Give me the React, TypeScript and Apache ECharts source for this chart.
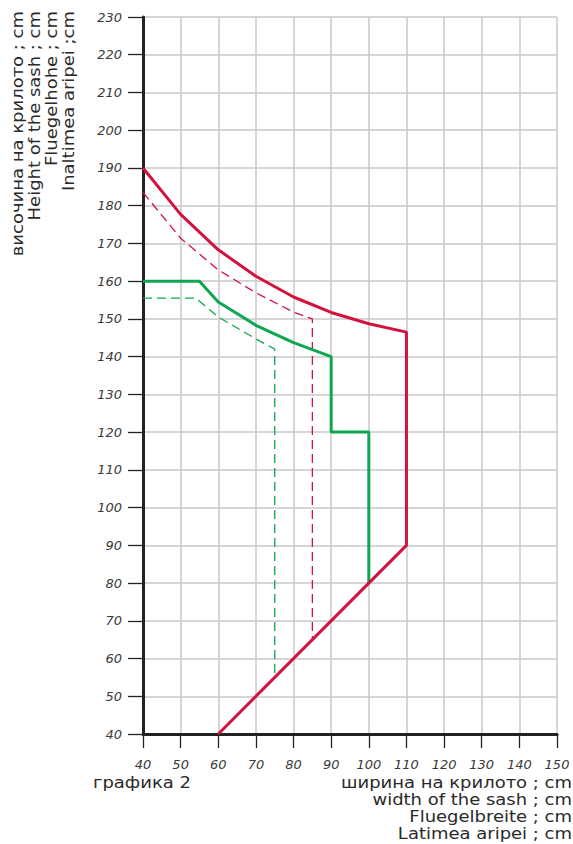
import React, { useEffect, useRef } from "react";
import * as echarts from "echarts";

const redSolid: number[][] = [
  [40, 190], [50, 177.7], [60, 168.3], [70, 161.3], [80, 155.8], [90, 151.7],
  [100, 148.7], [110, 146.5], [110, 90], [60, 40],
];
const redDashed: number[][] = [
  [40, 183.5], [50, 171.4], [60, 163], [70, 156.9], [80, 151.8], [85, 150], [85, 65],
];
const greenSolid: number[][] = [
  [40, 160], [55, 160], [60, 154.5], [70, 148.3], [80, 143.7], [90, 140],
  [90, 120], [100, 120], [100, 80],
];
const greenDashed: number[][] = [
  [40, 155.5], [54, 155.5], [60, 150.5], [70, 144.7], [75, 142], [75, 55],
];
const yTitles = [
  "височина на крилото ; cm",
  "Height of the sash ; cm",
  "Fluegelhohe ; cm",
  "Inaltimea aripei ;cm",
];
const xTitles = [
  "ширина на крилото ; cm",
  "width of the sash ; cm",
  "Fluegelbreite ; cm",
  "Latimea aripei ; cm",
];
const chartLabel = "графика 2";

const RED = "#d2123f";
const GREEN = "#0fa650";
const FONT = "DejaVu Sans";

export default function App() {
  const ref = useRef<HTMLDivElement>(null);
  useEffect(() => {
    if (!ref.current) return;
    const chart = echarts.init(ref.current, null, { renderer: "svg" });
    const graphics: any[] = [];
    const yCols = [18, 35, 52, 69];
    yTitles.forEach((t, i) => {
      graphics.push({
        type: "text",
        x: yCols[i],
        y: 11,
        rotation: Math.PI / 2,
        scaleX: 1.2,
        style: {
          text: t,
          font: `15px "${FONT}"`,
          fill: "#2a2a2a",
          align: "right",
          verticalAlign: "middle",
        },
      });
    });
    xTitles.forEach((t, i) => {
      graphics.push({
        type: "text",
        x: 572,
        y: 783 + i * 17,
        scaleX: 1.2,
        style: {
          text: t,
          font: `15px "${FONT}"`,
          fill: "#2a2a2a",
          align: "right",
          verticalAlign: "middle",
        },
      });
    });
    graphics.push({
      type: "text",
      x: 93,
      y: 783,
      scaleX: 1.2,
      style: {
        text: chartLabel,
        font: `15px "${FONT}"`,
        fill: "#2a2a2a",
        align: "left",
        verticalAlign: "middle",
      },
    });

    const lineSeries = (data: number[][], color: string, dashed: boolean) => ({
      type: "line",
      data,
      symbol: "none",
      clip: false,
      lineStyle: dashed
        ? { color, width: 1.3, type: [9, 5] }
        : { color, width: 3 },
      z: dashed ? 3 : 4,
    });

    chart.setOption({
      animation: false,
      grid: { left: 143, right: 16, top: 17, bottom: 110 },
      xAxis: {
        type: "value",
        min: 40,
        max: 150,
        interval: 10,
        axisLine: { onZero: false, lineStyle: { color: "#222", width: 3 } },
        axisTick: { show: true, length: 14, lineStyle: { color: "#222", width: 1.3 } },
        axisLabel: {
          margin: 24,
          fontFamily: FONT,
          fontStyle: "italic",
          fontSize: 13,
          color: "#3a3a3a",
        },
        splitLine: { show: true, lineStyle: { color: "#c8c8c8", width: 1.5 } },
      },
      yAxis: {
        type: "value",
        min: 40,
        max: 230,
        interval: 10,
        axisLine: { show: true, onZero: false, lineStyle: { color: "#222", width: 3 } },
        axisTick: { show: true, length: 15, lineStyle: { color: "#222", width: 1.3 } },
        axisLabel: {
          margin: 21,
          fontFamily: FONT,
          fontStyle: "italic",
          fontSize: 13,
          color: "#3a3a3a",
        },
        splitLine: { show: true, lineStyle: { color: "#c8c8c8", width: 1.5 } },
      },
      series: [
        lineSeries(redDashed, RED, true),
        lineSeries(greenDashed, GREEN, true),
        lineSeries(greenSolid, GREEN, false),
        lineSeries(redSolid, RED, false),
      ],
      graphic: graphics,
    });
    return () => chart.dispose();
  }, []);
  return (
    <div
      ref={ref}
      style={{ position: "fixed", left: 0, top: 0, width: 573, height: 844, background: "#fff" }}
    />
  );
}
